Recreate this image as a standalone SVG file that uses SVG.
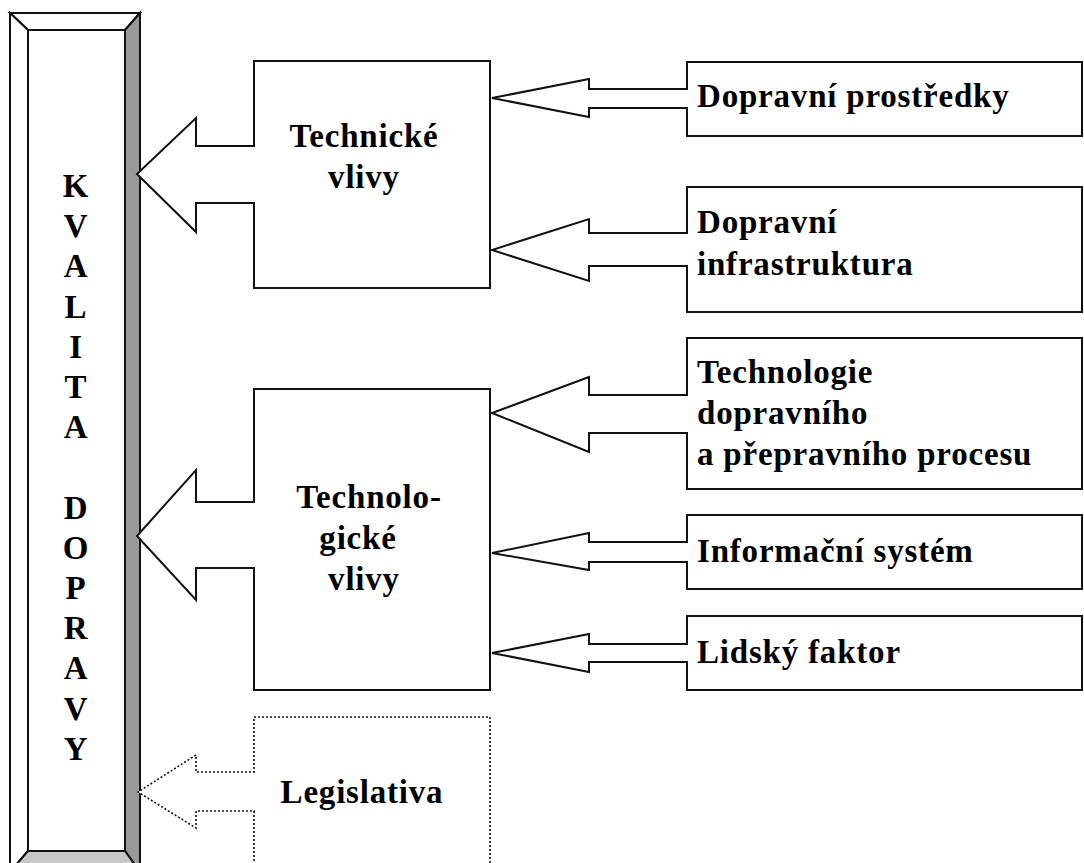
<svg xmlns="http://www.w3.org/2000/svg" width="1084" height="863" viewBox="0 0 1084 863">
<style>
.box{fill:#fff;stroke:#111;stroke-width:2}
.dot{fill:#fff;stroke:#111;stroke-width:1.6;stroke-dasharray:2 2}
.arr{fill:#fff;stroke:#111;stroke-width:2;stroke-linejoin:miter;stroke-linecap:butt}
.arrd{fill:#fff;stroke:#111;stroke-width:1.6;stroke-dasharray:2 2}
.t{font-family:"Liberation Serif","Times New Roman",serif;font-weight:bold;font-size:33px;letter-spacing:0.8px;fill:#000}
.c{text-anchor:middle}
.bev{stroke:#111;stroke-width:2;stroke-linejoin:miter}
</style>
<rect width="1084" height="863" fill="#fff"/>
<g id="kvalita">
<polygon class="bev" points="10,13 140,13 125,30 28,30" fill="#fff"/>
<polygon class="bev" points="10,13 28,30 28,851 10,872" fill="#fff"/>
<polygon class="bev" points="140,13 125,30 125,851 140,872" fill="#999"/>
<polygon class="bev" points="28,851 125,851 140,872 10,872" fill="#c8c8c8"/>
<rect x="28" y="30" width="97" height="821" fill="#fff" stroke="#111" stroke-width="2"/>
<g class="t c">
<text x="76" y="197">K</text>
<text x="76" y="237">V</text>
<text x="76" y="277">A</text>
<text x="76" y="318">L</text>
<text x="76" y="358">I</text>
<text x="76" y="398">T</text>
<text x="76" y="438">A</text>
<text x="76" y="519">D</text>
<text x="76" y="559">O</text>
<text x="76" y="599">P</text>
<text x="76" y="639">R</text>
<text x="76" y="679">A</text>
<text x="76" y="720">V</text>
<text x="76" y="760">Y</text>
</g>
</g>
<g id="technicke">
<rect class="box" x="254" y="61" width="236" height="227"/>
<text class="t c" x="364" y="147">Technické</text>
<text class="t c" x="364" y="188">vlivy</text>
</g>
<g id="technologicke">
<rect class="box" x="254" y="389" width="236" height="301"/>
<text class="t c" x="369" y="508">Technolo-</text>
<text class="t c" x="358" y="549">gické</text>
<text class="t c" x="364" y="590">vlivy</text>
</g>
<g id="legislativa">
<rect class="dot" x="254" y="717" width="236" height="160"/>
<text class="t c" x="362" y="803">Legislativa</text>
</g>
<g id="prostredky">
<rect class="box" x="687" y="62" width="395" height="74"/>
<text class="t" x="697" y="107">Dopravní prostředky</text>
</g>
<g id="infrastruktura">
<rect class="box" x="687" y="187" width="395" height="125"/>
<text class="t" x="697" y="233">Dopravní</text>
<text class="t" x="697" y="275">infrastruktura</text>
</g>
<g id="technologie">
<rect class="box" x="687" y="338" width="395" height="151"/>
<text class="t" x="697" y="383">Technologie</text>
<text class="t" x="697" y="424">dopravního</text>
<text class="t" x="697" y="465">a přepravního procesu</text>
</g>
<g id="informacni">
<rect class="box" x="687" y="515" width="395" height="74"/>
<text class="t" x="697" y="562">Informační systém</text>
</g>
<g id="lidsky">
<rect class="box" x="687" y="616" width="395" height="74"/>
<text class="t" x="697" y="663">Lidský faktor</text>
</g>
<g id="connectors">
<path class="arr" d="M688,89 H589 V79 L492,98 L589,117 V108 H688"/>
<path class="arr" d="M688,233 H589 V219 L492,250 L589,281 V266 H688"/>
<path class="arr" d="M688,395 H589 V377 L492,413 L589,452 V433 H688"/>
<path class="arr" d="M688,542 H589 V533 L492,553 L589,570 V562 H688"/>
<path class="arr" d="M688,644 H589 V634 L492,653 L589,672 V662 H688"/>
<path class="arr" d="M255,146 H196 V118 L137,174 L196,232 V203 H255"/>
<path class="arr" d="M255,502 H196 V470 L137,536 L196,600 V568 H255"/>
<path class="arrd" d="M255,772 H196 V755 L138,792 L196,828 V811 H255"/>
</g>
</svg>
